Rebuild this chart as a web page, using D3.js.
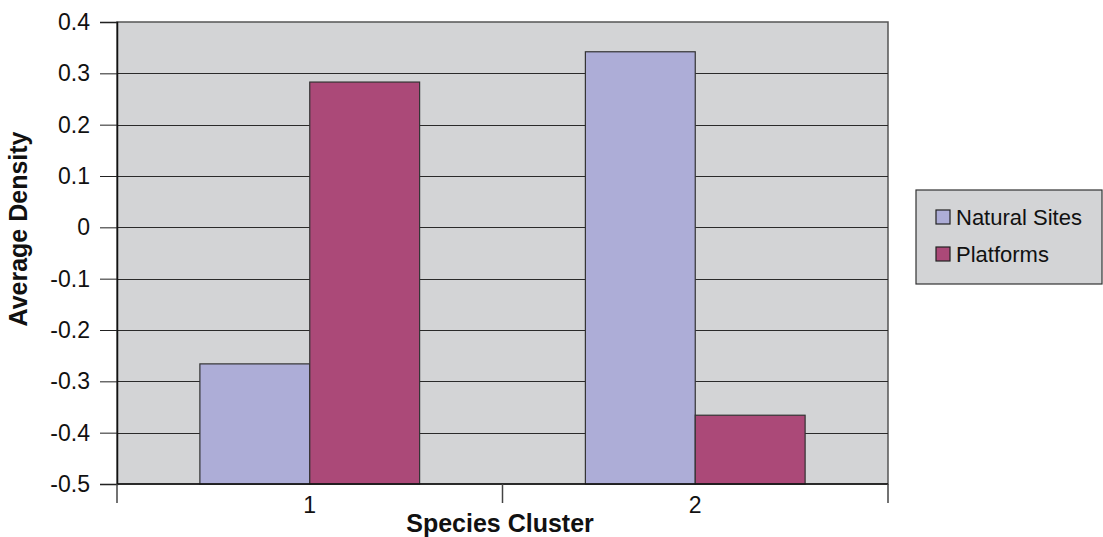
<!DOCTYPE html>
<html>
<head>
<meta charset="utf-8">
<script src="https://cdnjs.cloudflare.com/ajax/libs/d3/7.8.5/d3.min.js"></script>
<style>
    body { margin: 0; background: #fff; }
    svg { display: block; font-family: "Liberation Sans", Arial, sans-serif; }
</style>
</head>
<body>
<svg id="chart" width="1103" height="537"></svg>
<script>
/*global d3 */
"use strict";

var clusters = ["1", "2"];
var seriesNames = ["Natural Sites", "Platforms"];
var naturalSites = [-0.266, 0.342];
var platforms = [0.283, -0.366];
var yTicks = [0.4, 0.3, 0.2, 0.1, 0, -0.1, -0.2, -0.3, -0.4, -0.5];
var seriesColors = ["#adadd7", "#ab4978"];

function drawChart() {
    var svg = d3.select("#chart"),
        plotLeft = 117, plotRight = 888, plotTop = 22, plotBottom = 484;

    var x = d3.scaleBand().domain(clusters).range([plotLeft, plotRight])
        .paddingInner(0.43).paddingOuter(0.215);
    var xSeries = d3.scaleBand().domain(seriesNames).range([0, x.bandwidth()]);
    var y = d3.scaleLinear().domain([-0.5, 0.4]).range([plotBottom, plotTop]);

    // plain hyphen for negatives, like the original
    function fmt(d) {
        return d === 0 ? "0" : d3.format(".1f")(d).replace("\u2212", "-");
    }

    // plot background
    svg.append("rect")
        .attr("x", plotLeft).attr("y", plotTop)
        .attr("width", plotRight - plotLeft).attr("height", plotBottom - plotTop)
        .attr("fill", "#d3d4d6")
        .attr("stroke", "#555").attr("stroke-width", 1.5);

    // gridlines
    svg.append("g").selectAll("line").data(yTicks.slice(1, -1)).join("line")
        .attr("x1", plotLeft).attr("x2", plotRight)
        .attr("y1", function (d) { return Math.round(y(d)) + 0.5; })
        .attr("y2", function (d) { return Math.round(y(d)) + 0.5; })
        .attr("stroke", "#2a2a2a").attr("stroke-width", 1);

    // bars
    var table = clusters.map(function (c, i) {
        return [
            {cluster: c, series: seriesNames[0], value: naturalSites[i]},
            {cluster: c, series: seriesNames[1], value: platforms[i]}
        ];
    });

    svg.append("g").selectAll("g").data(table).join("g")
        .attr("transform", function (d) { return "translate(" + x(d[0].cluster) + ",0)"; })
        .selectAll("rect").data(function (d) { return d; }).join("rect")
        .attr("x", function (d) { return xSeries(d.series); })
        .attr("y", function (d) { return y(d.value); })
        .attr("width", xSeries.bandwidth())
        .attr("height", function (d) { return y(-0.5) - y(d.value); })
        .attr("fill", function (d, i) { return seriesColors[i]; })
        .attr("stroke", "#333").attr("stroke-width", 1.2);

    // y axis
    var yAxis = svg.append("g")
        .attr("transform", "translate(" + plotLeft + ",0)")
        .call(d3.axisLeft(y).tickValues(yTicks).tickFormat(fmt).tickSize(17).tickPadding(10));
    yAxis.select(".domain").attr("stroke", "#111").attr("stroke-width", 1.5);
    yAxis.selectAll(".tick line").attr("stroke", "#222");
    yAxis.selectAll(".tick text").attr("font-size", 23).attr("fill", "#111")
        .attr("font-family", "Liberation Sans, Arial, sans-serif");

    // x axis: ticks sit on band edges, labels at band centres
    var xAxis = svg.append("g").attr("transform", "translate(0," + plotBottom + ")");
    xAxis.append("line")
        .attr("x1", plotLeft).attr("x2", plotRight)
        .attr("stroke", "#111").attr("stroke-width", 1.5);
    var edges = [plotLeft].concat(clusters.map(function (c) {
        return x(c) + x.bandwidth() + x.step() * x.paddingInner() / 2;
    }));
    edges[edges.length - 1] = plotRight;
    xAxis.selectAll(".edge").data(edges).join("line")
        .attr("class", "edge")
        .attr("x1", function (d) { return d; }).attr("x2", function (d) { return d; })
        .attr("y1", 0).attr("y2", 19)
        .attr("stroke", "#444").attr("stroke-width", 1.5);
    xAxis.selectAll("text").data(clusters).join("text")
        .attr("x", function (d) { return x(d) + x.bandwidth() / 2; })
        .attr("y", 29)
        .attr("text-anchor", "middle")
        .attr("font-size", 23).attr("fill", "#111")
        .text(function (d) { return d; });

    // axis titles
    svg.append("text")
        .attr("x", 500).attr("y", 532)
        .attr("text-anchor", "middle")
        .attr("font-size", 25).attr("font-weight", "bold").attr("fill", "#111")
        .text("Species Cluster");

    svg.append("text")
        .attr("transform", "translate(27,229) rotate(-90)")
        .attr("text-anchor", "middle")
        .attr("font-size", 25).attr("font-weight", "bold").attr("fill", "#111")
        .text("Average Density");

    // legend
    var legend = svg.append("g").attr("transform", "translate(916,190)");
    legend.append("rect")
        .attr("width", 186).attr("height", 94)
        .attr("fill", "#d3d4d6").attr("stroke", "#333").attr("stroke-width", 1.2);
    var items = legend.selectAll("g").data(seriesNames).join("g")
        .attr("transform", function (d, i) { return "translate(20," + (27 + i * 37) + ")"; });
    items.append("rect")
        .attr("x", 0).attr("y", -7).attr("width", 14).attr("height", 14)
        .attr("fill", function (d, i) { return seriesColors[i]; })
        .attr("stroke", "#222").attr("stroke-width", 1.2);
    items.append("text")
        .attr("x", 20).attr("y", 8)
        .attr("font-size", 22).attr("fill", "#111")
        .text(function (d) { return d; });
}

drawChart();
</script>
</body>
</html>
